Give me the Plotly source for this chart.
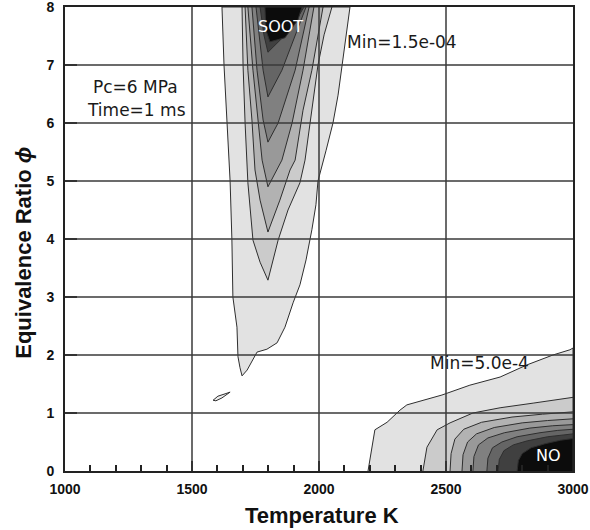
import plotly.graph_objects as go

# ---------------- data ----------------
x_tick_vals = [1000, 1500, 2000, 2500, 3000]
y_tick_vals = [0, 1, 2, 3, 4, 5, 6, 7, 8]
x_grid_vals = [1500, 2000, 2500]
y_grid_vals = [1, 2, 3, 4, 5, 6, 7]

# Soot contour levels (outermost -> innermost), Temperature [K]
soot_T = [
    [1697, 1717, 1756, 1795, 1835, 1866, 1898, 1925, 1949, 1972, 1988, 1996, 2028, 2055, 2075, 2091, 2106, 2122,
     1618, 1626, 1638, 1650, 1657, 1661, 1677, 1681, 1689, 1697],
    [1799, 1839, 1878, 1925, 1945, 1965, 1996, 2020, 2051, 1697, 1701, 1709, 1720, 1740, 1768, 1799],
    [1799, 1846, 1886, 1906, 1937, 1972, 2016, 1709, 1720, 1736, 1748, 1768, 1799],
    [1799, 1854, 1894, 1937, 1980, 1720, 1740, 1760, 1776, 1799],
    [1799, 1839, 1906, 1961, 1736, 1756, 1780, 1799],
    [1799, 1854, 1949, 1752, 1780, 1799],
    [1799, 1886, 1941, 1768, 1783, 1799],
    [1787, 1791, 1807, 1866, 1917, 1933, 1787],
]
# Soot contour levels, equivalence ratio
soot_phi = [
    [1.64, 1.74, 2.05, 2.10, 2.21, 2.48, 2.90, 3.21, 3.64, 4.16, 4.59, 5.00, 5.53, 6.00, 6.48, 7.00, 7.52, 8.00,
     8.00, 7.00, 6.00, 5.00, 4.00, 3.00, 2.48, 1.97, 1.78, 1.64],
    [3.29, 3.98, 4.50, 4.97, 5.36, 6.00, 7.00, 7.52, 8.00, 8.00, 7.00, 6.00, 4.97, 3.98, 3.60, 3.29],
    [4.12, 4.67, 5.19, 5.36, 6.22, 6.91, 8.00, 8.00, 6.91, 6.05, 5.19, 4.67, 4.12],
    [4.90, 5.36, 6.00, 6.91, 8.00, 8.00, 6.91, 6.05, 5.36, 4.90],
    [5.67, 6.00, 6.91, 8.00, 8.00, 6.91, 6.05, 5.67],
    [6.45, 6.91, 8.00, 8.00, 6.91, 6.45],
    [7.22, 7.60, 8.00, 8.00, 7.52, 7.22],
    [8.00, 7.60, 7.40, 7.47, 7.78, 8.00, 8.00],
]

# NO contour levels (outermost -> innermost)
no_T = [
    [2193, 2220, 2268, 2319, 2346, 2484, 2594, 2713, 2819, 2921, 2988, 3000, 3000],
    [2409, 2425, 2465, 2516, 2606, 2713, 2843, 3000, 3000],
    [2516, 2520, 2535, 2570, 2640, 2760, 2880, 3000, 3000],
    [2563, 2567, 2585, 2620, 2690, 2800, 2900, 3000, 3000],
    [2606, 2610, 2628, 2665, 2730, 2830, 2920, 3000, 3000],
    [2661, 2665, 2683, 2720, 2780, 2870, 2940, 3000, 3000],
    [2705, 2710, 2728, 2765, 2820, 2900, 3000, 3000],
    [2780, 2785, 2800, 2835, 2890, 2950, 3000, 3000],
]
no_phi = [
    [0.00, 0.71, 0.84, 1.05, 1.14, 1.31, 1.48, 1.62, 1.83, 2.00, 2.09, 2.12, 0.00],
    [0.00, 0.41, 0.71, 0.83, 1.00, 1.09, 1.17, 1.27, 0.00],
    [0.00, 0.30, 0.55, 0.72, 0.84, 0.93, 0.98, 1.02, 0.00],
    [0.00, 0.28, 0.50, 0.64, 0.75, 0.83, 0.87, 0.90, 0.00],
    [0.00, 0.25, 0.45, 0.57, 0.66, 0.74, 0.78, 0.80, 0.00],
    [0.00, 0.22, 0.40, 0.50, 0.59, 0.66, 0.70, 0.72, 0.00],
    [0.00, 0.20, 0.35, 0.45, 0.52, 0.59, 0.64, 0.00],
    [0.00, 0.18, 0.30, 0.40, 0.47, 0.53, 0.56, 0.00],
]

island_T = [1583, 1602, 1630, 1650, 1618, 1594, 1583]
island_phi = [1.22, 1.29, 1.33, 1.36, 1.26, 1.21, 1.22]

level_colors = ["#e2e2e2", "#cbcbcb", "#b2b2b2", "#999999", "#808080", "#656565", "#404040", "#0c0c0c"]

# ---------------- figure ----------------
fig = go.Figure()
line_style = dict(color="#2e2e2e", width=1)

for T, P, c in zip(soot_T, soot_phi, level_colors):
    fig.add_trace(go.Scatter(x=T, y=P, mode="lines", fill="toself", fillcolor=c,
                             line=line_style, hoverinfo="skip", showlegend=False))
for T, P, c in zip(no_T, no_phi, level_colors):
    fig.add_trace(go.Scatter(x=T, y=P, mode="lines", fill="toself", fillcolor=c,
                             line=line_style, hoverinfo="skip", showlegend=False))
fig.add_trace(go.Scatter(x=island_T, y=island_phi, mode="lines", fill="toself", fillcolor="#ececec",
                         line=line_style, hoverinfo="skip", showlegend=False))

# grid lines drawn above the filled contours
for v in x_grid_vals:
    fig.add_shape(type="line", xref="x", yref="paper", x0=v, x1=v, y0=0, y1=1,
                  line=dict(color="#3a3a3a", width=1.5), layer="above")
for v in y_grid_vals:
    fig.add_shape(type="line", xref="paper", yref="y", x0=0, x1=1, y0=v, y1=v,
                  line=dict(color="#3a3a3a", width=1.5), layer="above")

tick_font = dict(family="Liberation Sans, Arial, sans-serif", size=14, color="#111111", weight="bold")
note_font = dict(family="DejaVu Sans, sans-serif", size=17, color="#1a1a1a")

fig.update_xaxes(range=[1000, 3000], tickvals=x_tick_vals, showgrid=False, zeroline=False,
                 showline=True, mirror=True, linecolor="#222222", linewidth=2,
                 ticks="inside", ticklen=10, tickwidth=1.5, tickcolor="#222222",
                 minor=dict(dtick=100, ticks="inside", ticklen=6, tickcolor="#222222", showgrid=False),
                 tickfont=tick_font, ticklabelstandoff=4, layer="above traces", automargin=False,
                 ticklabeloverflow="allow")
fig.update_yaxes(range=[0, 8], tickvals=y_tick_vals, showgrid=False, zeroline=False,
                 showline=True, mirror=True, linecolor="#222222", linewidth=2,
                 ticks="inside", ticklen=12, tickwidth=1.5, tickcolor="#222222",
                 tickfont=tick_font, ticklabelstandoff=6, layer="above traces", automargin=False,
                 ticklabeloverflow="allow")

annotations = [
    dict(text="Min=1.5e-04", x=2102, y=7.40, xanchor="left", yanchor="middle", font=note_font),
    dict(text="Min=5.0e-4", x=2429, y=1.86, xanchor="left", yanchor="middle", font=note_font),
    dict(text="Pc=6 MPa", x=1276, y=6.62, xanchor="center", yanchor="middle", font=note_font),
    dict(text="Time=1 ms", x=1280, y=6.22, xanchor="center", yanchor="middle", font=note_font),
    dict(text="SOOT", x=1850, y=7.67, xanchor="center", yanchor="middle",
         font=dict(family="DejaVu Sans, sans-serif", size=16, color="white")),
    dict(text="NO", x=2902, y=0.26, xanchor="center", yanchor="middle",
         font=dict(family="DejaVu Sans, sans-serif", size=16, color="white")),
]
for a in annotations:
    a.update(xref="x", yref="y", showarrow=False)

annotations += [
    dict(text="Temperature K", xref="paper", yref="paper", x=0.506, y=-0.095, xanchor="center",
         yanchor="middle", showarrow=False,
         font=dict(family="Liberation Sans, Arial, sans-serif", size=22, color="#111111", weight="bold")),
    dict(text="Equivalence Ratio <i>ϕ</i>", xref="paper", yref="paper", x=-0.081, y=0.47,
         xanchor="center", yanchor="middle", textangle=-90, showarrow=False,
         font=dict(family="Liberation Sans, Arial, sans-serif", size=22, color="#111111", weight="bold")),
]

fig.update_layout(width=590, height=530, margin=dict(l=65, r=17, t=7, b=59, autoexpand=False),
                  paper_bgcolor="white", plot_bgcolor="white",
                  annotations=annotations, showlegend=False)

fig.write_html("out.html")
